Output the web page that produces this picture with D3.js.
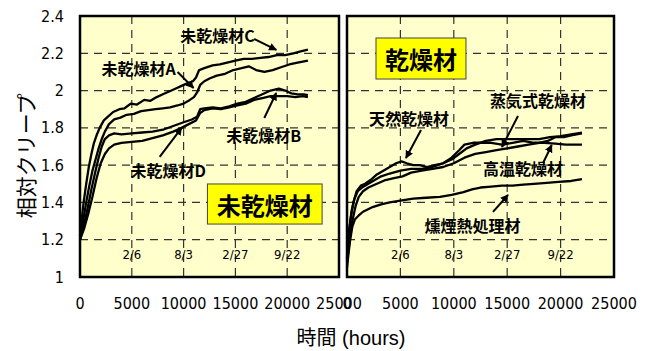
<!DOCTYPE html>
<html><head><meta charset="utf-8">
<script src="https://cdn.jsdelivr.net/npm/d3@7"></script>
<style>body{margin:0;background:#fff;} svg{display:block;}</style>
</head><body><svg id="c" width="650" height="351"></svg>
<script>
// ---------- data ----------
const xTicks = [0, 5000, 10000, 15000, 20000, 25000];
const yTicks = [1, 1.2, 1.4, 1.6, 1.8, 2, 2.2, 2.4];
const gridX = [5000, 10000, 15000, 20000];
const gridY = [1.2, 1.4, 1.6, 1.8, 2, 2.2];
const dateLabels = ["2/6", "8/3", "2/27", "9/22"];
const yTitle = "相対クリープ";
const xTitleJa = "時間";
const xTitleUnit = " (hours)";
const leftTitle = "未乾燥材";
const rightTitle = "乾燥材";

// left panel: undried timber A-D  [hours, relative creep]
const seriesC = [[0,1.22],[150,1.30],[350,1.40],[600,1.50],[850,1.59],[1100,1.66],[1350,1.72],[1600,1.76],[1900,1.80],[2300,1.84],[2700,1.86],[3200,1.885],[3800,1.90],[4300,1.905],[4900,1.93],[5500,1.925],[6200,1.95],[6800,1.945],[7400,1.965],[8000,1.98],[8600,1.995],[9200,2.01],[9800,2.025],[10400,2.04],[10900,2.05],[11200,2.07],[11500,2.11],[12000,2.12],[12800,2.135],[13500,2.14],[14200,2.15],[15000,2.16],[15800,2.17],[16600,2.17],[17400,2.175],[18200,2.18],[19000,2.19],[19800,2.19],[20600,2.20],[21300,2.21],[22000,2.22]];
const seriesA = [[0,1.22],[300,1.30],[600,1.40],[900,1.49],[1200,1.57],[1500,1.63],[1800,1.69],[2100,1.74],[2400,1.78],[2800,1.82],[3300,1.845],[3900,1.855],[4500,1.87],[5200,1.875],[5900,1.89],[6600,1.895],[7300,1.90],[8000,1.905],[8700,1.91],[9400,1.92],[10000,1.93],[10600,1.95],[11000,1.965],[11300,1.99],[11600,2.03],[12000,2.05],[12500,2.065],[13200,2.08],[14000,2.09],[14800,2.11],[15600,2.12],[16300,2.13],[17000,2.11],[17800,2.10],[18600,2.11],[19400,2.125],[20200,2.14],[21000,2.15],[22000,2.16]];
const seriesB = [[0,1.20],[300,1.26],[700,1.36],[1100,1.47],[1500,1.57],[1800,1.64],[2100,1.70],[2400,1.74],[2800,1.76],[3300,1.77],[4000,1.765],[5000,1.77],[6000,1.775],[7000,1.78],[8000,1.79],[9000,1.81],[10000,1.83],[10800,1.845],[11300,1.86],[11600,1.90],[12000,1.905],[12800,1.91],[13600,1.905],[14400,1.915],[15200,1.93],[16000,1.94],[16800,1.96],[17600,1.98],[18400,2.00],[19200,2.01],[19800,2.00],[20400,1.985],[21000,1.98],[21600,1.98],[22000,1.975]];
const seriesD = [[0,1.20],[400,1.26],[800,1.34],[1200,1.43],[1600,1.53],[2000,1.61],[2400,1.66],[2800,1.69],[3300,1.71],[4000,1.72],[5000,1.725],[6000,1.73],[7000,1.745],[8000,1.76],[9000,1.78],[9800,1.80],[10500,1.82],[11200,1.84],[11600,1.88],[12000,1.895],[12800,1.905],[13600,1.90],[14400,1.91],[15200,1.92],[16000,1.93],[16800,1.95],[17600,1.96],[18400,1.97],[19200,1.97],[20000,1.97],[20800,1.965],[21500,1.97],[22000,1.965]];

// right panel: dried timber
const seriesNatural = [[0,1.10],[150,1.22],[350,1.32],[600,1.40],[900,1.46],[1300,1.49],[1700,1.50],[2200,1.52],[2800,1.55],[3400,1.57],[4000,1.59],[4600,1.61],[5100,1.62],[5600,1.61],[6200,1.60],[6800,1.60],[7500,1.59],[8200,1.60],[9000,1.61],[9800,1.63],[10500,1.66],[11200,1.69],[12000,1.71],[13000,1.73],[14000,1.74],[15000,1.74],[16000,1.74],[17000,1.74],[18000,1.74],[19000,1.75],[20000,1.755],[21000,1.765],[22000,1.775]];
const seriesSteam = [[0,1.10],[200,1.25],[450,1.36],[700,1.42],[1000,1.46],[1400,1.48],[2000,1.50],[2600,1.52],[3200,1.54],[4000,1.555],[5000,1.57],[6000,1.58],[7000,1.58],[8000,1.59],[9000,1.61],[9800,1.64],[10500,1.68],[11000,1.71],[11800,1.72],[12600,1.72],[13500,1.72],[14500,1.71],[15500,1.72],[16500,1.73],[17500,1.72],[18500,1.72],[19500,1.715],[20500,1.71],[21300,1.71],[22000,1.71]];
const seriesHigh = [[0,1.08],[250,1.20],[500,1.30],[800,1.38],[1100,1.43],[1500,1.46],[2000,1.48],[2800,1.50],[3600,1.52],[4400,1.53],[5200,1.54],[6000,1.56],[7000,1.57],[8000,1.58],[9000,1.59],[10000,1.61],[11000,1.64],[12000,1.66],[13000,1.67],[14000,1.68],[15000,1.69],[16000,1.70],[17000,1.71],[18000,1.72],[18800,1.73],[19500,1.75],[20300,1.75],[21000,1.76],[22000,1.77]];
const seriesSmoke = [[0,1.05],[150,1.13],[300,1.20],[500,1.27],[750,1.31],[1100,1.33],[1500,1.35],[2400,1.375],[3200,1.39],[4000,1.40],[5000,1.41],[6200,1.42],[7400,1.425],[8700,1.43],[9800,1.44],[10900,1.455],[11700,1.47],[12500,1.48],[13500,1.485],[14500,1.49],[15500,1.49],[16500,1.495],[17500,1.50],[18700,1.505],[19800,1.51],[21000,1.515],[22000,1.525]];

// annotation labels [text, hours, creep] and arrows [[tail],[head]] in data units
const leftLabels = [["未乾燥材C",13270,2.298],["未乾燥材A",5670,2.121],["未乾燥材B",17740,1.762],["未乾燥材D",8510,1.574]];
const leftArrows = [[[16800,2.277],[18950,2.218]],[[9420,2.10],[10960,2.014]],[[17790,1.853],[18940,1.987]],[[7690,1.644],[9810,1.80]]];
const rightLabels = [["天然乾燥材",5800,1.853],["蒸気式乾燥材",17880,1.95],["高温乾燥材",16480,1.582],["燻煙熱処理材",11750,1.279]];
const rightArrows = [[[6930,1.789],[5520,1.638]],[[16010,1.864],[14510,1.697]],[[18350,1.61],[19170,1.708]],[[13670,1.349],[15075,1.44]]];
const leftBox = [12300, 23370, 1.499, 1.284];
const rightBox = [2715, 11140, 2.282, 2.062];

// ---------- drawing ----------
const svg = d3.select("#c");
const numFont = "'Liberation Sans Narrow','DejaVu Sans Condensed','Liberation Sans',sans-serif";
const jaFont = "'Noto Sans CJK JP','Noto Sans CJK SC',sans-serif";

svg.append("defs").append("marker")
  .attr("id","ah").attr("viewBox","0 0 10 10").attr("refX",9).attr("refY",5)
  .attr("markerWidth",4).attr("markerHeight",4).attr("orient","auto")
  .attr("markerUnits","strokeWidth")
  .append("path").attr("d","M0,0 L10,5 L0,10 z").attr("fill","#000");

const y = d3.scaleLinear().domain([1, 2.4]).range([277, 16]);

function panel(xr, series, labels, arrows, box, title) {
  const x = d3.scaleLinear().domain([0, 25000]).range(xr);
  const g = svg.append("g");
  g.append("rect").attr("x", xr[0]).attr("y", y(2.4)).attr("width", xr[1]-xr[0]).attr("height", y(1)-y(2.4))
    .attr("fill", "#FFFFCC");
  g.selectAll(".gx").data(gridX).join("line")
    .attr("x1", d=>x(d)).attr("x2", d=>x(d)).attr("y1", y(2.4)).attr("y2", y(1))
    .attr("stroke", "#333").attr("stroke-width", 1.2).attr("stroke-dasharray", "8,6");
  g.selectAll(".gy").data(gridY).join("line")
    .attr("x1", xr[0]).attr("x2", xr[1]).attr("y1", d=>y(d)).attr("y2", d=>y(d))
    .attr("stroke", "#333").attr("stroke-width", 1.2).attr("stroke-dasharray", "8,6");
  // date labels
  g.selectAll(".dl").data(gridX).join("text")
    .attr("x", d=>x(d)).attr("y", 259).attr("text-anchor","middle")
    .attr("font-family", numFont).attr("font-size", 13).attr("fill","#000")
    .text((d,i)=>dateLabels[i]);
  // series
  const line = d3.line().x(d=>x(d[0])).y(d=>y(d[1]));
  series.forEach(s => {
    g.append("path").attr("d", line(s)).attr("fill","none").attr("stroke","#000")
      .attr("stroke-width", 2.3).attr("stroke-linejoin","round");
  });
  // title box
  g.append("rect").attr("x", x(box[0])).attr("y", y(box[2])).attr("width", x(box[1])-x(box[0]))
    .attr("height", y(box[3])-y(box[2])).attr("fill","#FFFF00").attr("stroke","#444").attr("stroke-width",1);
  g.append("text").attr("x", (x(box[0])+x(box[1]))/2).attr("y", (y(box[2])+y(box[3]))/2)
    .attr("text-anchor","middle").attr("dominant-baseline","central")
    .attr("font-family", jaFont).attr("font-weight","bold").attr("font-size", 24).text(title);
  // labels
  g.selectAll(".lb").data(labels).join("text")
    .attr("x", d=>x(d[1])).attr("y", d=>y(d[2])).attr("text-anchor","middle").attr("dominant-baseline","central")
    .attr("font-family", jaFont).attr("font-weight","bold").attr("font-size", 16).text(d=>d[0]);
  // arrows
  g.selectAll(".ar").data(arrows).join("line")
    .attr("x1", d=>x(d[0][0])).attr("y1", d=>y(d[0][1])).attr("x2", d=>x(d[1][0])).attr("y2", d=>y(d[1][1]))
    .attr("stroke","#000").attr("stroke-width",2).attr("marker-end","url(#ah)");
  // frame
  g.append("rect").attr("x", xr[0]).attr("y", y(2.4)).attr("width", xr[1]-xr[0]).attr("height", y(1)-y(2.4))
    .attr("fill", "none").attr("stroke","#000").attr("stroke-width",2.5);
  // x tick labels
  g.selectAll(".xt").data(xTicks).join("text")
    .attr("x", d=>x(d)).attr("y", 309).attr("text-anchor","middle")
    .attr("font-family", numFont).attr("font-size", 16).text(d=>String(d));
}

panel([80, 339], [seriesC, seriesA, seriesB, seriesD], leftLabels, leftArrows, leftBox, leftTitle);
panel([347, 614], [seriesNatural, seriesSteam, seriesHigh, seriesSmoke], rightLabels, rightArrows, rightBox, rightTitle);

// y tick labels
svg.selectAll(".yt").data(yTicks).join("text")
  .attr("x", 64).attr("y", d=>y(d)).attr("text-anchor","end").attr("dominant-baseline","central")
  .attr("font-family", numFont).attr("font-size", 16).text(d=>String(+d.toFixed(1)));

// y title
svg.append("text").attr("transform", `translate(25,${(y(1.2)+y(2.1))/2}) rotate(-90)`)
  .attr("text-anchor","middle").attr("dominant-baseline","central")
  .attr("font-family", jaFont).attr("font-size", 21).text(yTitle);

// x title
const xt = svg.append("text").attr("x", 351).attr("y", 345).attr("text-anchor","middle");
xt.append("tspan").attr("font-family", jaFont).attr("font-size", 20).text(xTitleJa);
xt.append("tspan").attr("font-family", "'Liberation Sans',sans-serif").attr("font-size", 20).text(xTitleUnit);
</script></body></html>
